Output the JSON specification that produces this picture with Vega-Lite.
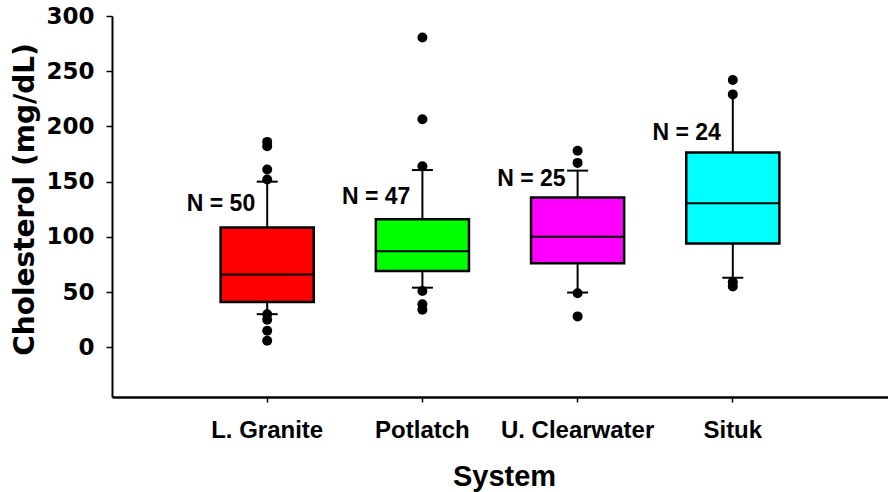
{
  "$schema": "https://vega.github.io/schema/vega-lite/v6.json",
  "autosize": "none",
  "width": 776,
  "height": 381,
  "padding": {"left": 112, "top": 16, "right": 0, "bottom": 95},
  "background": "white",
  "config": {"view": {"stroke": null}},
  "datasets": {
    "stats": [
      {"system": "L. Granite", "lower": 30, "q1": 41, "median": 66, "q3": 108.5, "upper": 150, "cap_upper": 150, "n": "N = 50", "labelY": 129.5},
      {"system": "Potlatch", "lower": 54, "q1": 69, "median": 87, "q3": 116, "upper": 160.5, "cap_upper": 160.5, "n": "N = 47", "labelY": 136.5},
      {"system": "U. Clearwater", "lower": 49.6, "q1": 76, "median": 100, "q3": 135.7, "upper": 160, "cap_upper": 160, "n": "N = 25", "labelY": 152},
      {"system": "Situk", "lower": 63, "q1": 94, "median": 130.5, "q3": 176.4, "upper": 229, "cap_upper": null, "n": "N = 24", "labelY": 194.5}
    ],
    "outliers": [
      {"system": "L. Granite", "value": 186},
      {"system": "L. Granite", "value": 182},
      {"system": "L. Granite", "value": 161},
      {"system": "L. Granite", "value": 152},
      {"system": "L. Granite", "value": 30},
      {"system": "L. Granite", "value": 25},
      {"system": "L. Granite", "value": 15},
      {"system": "L. Granite", "value": 6},
      {"system": "Potlatch", "value": 280.5},
      {"system": "Potlatch", "value": 206.5},
      {"system": "Potlatch", "value": 164},
      {"system": "Potlatch", "value": 51},
      {"system": "Potlatch", "value": 39},
      {"system": "Potlatch", "value": 34},
      {"system": "U. Clearwater", "value": 178},
      {"system": "U. Clearwater", "value": 167},
      {"system": "U. Clearwater", "value": 49},
      {"system": "U. Clearwater", "value": 28},
      {"system": "Situk", "value": 242},
      {"system": "Situk", "value": 229},
      {"system": "Situk", "value": 59},
      {"system": "Situk", "value": 55}
    ]
  },
  "layer": [
    {
      "data": {"name": "stats"},
      "mark": {"type": "rule", "color": "black", "strokeWidth": 2},
      "encoding": {
        "x": {
          "field": "system", "type": "nominal",
          "sort": ["L. Granite", "Potlatch", "U. Clearwater", "Situk"],
          "scale": {"type": "band", "paddingInner": 0.4, "paddingOuter": 0.7},
          "axis": {
            "title": "System",
            "titleFont": "Liberation Sans", "titleFontSize": 29, "titleFontWeight": "bold", "titleColor": "black",
            "titleX": 392, "titleY": 88, "titleBaseline": "alphabetic", "titleAnchor": null, "titleAlign": "center",
            "labelFont": "Liberation Sans", "labelFontSize": 24, "labelFontWeight": "bold", "labelColor": "black",
            "labelAngle": 0, "labelBaseline": "alphabetic", "labelPadding": 35,
            "tickSize": 5, "tickColor": "black", "tickWidth": 1.5,
            "domainColor": "black", "domainWidth": 2.5, "grid": false
          }
        },
        "y": {
          "field": "lower", "type": "quantitative",
          "scale": {"domain": [-45, 300], "nice": false, "zero": false},
          "axis": {
            "title": "Cholesterol (mg/dL)",
            "values": [0, 50, 100, 150, 200, 250, 300],
            "titleFont": "DejaVu Sans", "titleFontSize": 28, "titleFontWeight": "bold", "titleColor": "black",
            "titleX": -87, "titleY": 183, "titleAngle": -90, "titleBaseline": "middle", "titleAlign": "center", "titleAnchor": null,
            "labelFont": "DejaVu Sans", "labelFontSize": 23, "labelFontWeight": "bold", "labelColor": "black",
            "labelPadding": 12, "labelBaseline": "middle",
            "tickSize": 6, "tickColor": "black", "tickWidth": 1.5,
            "domainColor": "black", "domainWidth": 2, "grid": false
          }
        },
        "y2": {"field": "upper"}
      }
    },
    {
      "data": {"name": "stats"},
      "mark": {"type": "tick", "color": "black", "opacity": 1, "thickness": 2, "size": 21, "orient": "horizontal"},
      "encoding": {
        "x": {"field": "system", "type": "nominal", "sort": ["L. Granite", "Potlatch", "U. Clearwater", "Situk"]},
        "y": {"field": "lower", "type": "quantitative"}
      }
    },
    {
      "data": {"name": "stats"},
      "mark": {"type": "tick", "color": "black", "opacity": 1, "thickness": 2, "size": 21, "orient": "horizontal"},
      "encoding": {
        "x": {"field": "system", "type": "nominal", "sort": ["L. Granite", "Potlatch", "U. Clearwater", "Situk"]},
        "y": {"field": "cap_upper", "type": "quantitative"}
      }
    },
    {
      "data": {"name": "stats"},
      "mark": {"type": "bar", "stroke": "black", "strokeWidth": 2.5, "opacity": 1},
      "encoding": {
        "x": {"field": "system", "type": "nominal", "sort": ["L. Granite", "Potlatch", "U. Clearwater", "Situk"]},
        "y": {"field": "q1", "type": "quantitative"},
        "y2": {"field": "q3"},
        "fill": {
          "field": "system", "type": "nominal", "legend": null,
          "scale": {"domain": ["L. Granite", "Potlatch", "U. Clearwater", "Situk"], "range": ["#FF0000", "#00FF00", "#FF00FF", "#00FFFF"]}
        }
      }
    },
    {
      "data": {"name": "stats"},
      "mark": {"type": "tick", "color": "black", "opacity": 1, "thickness": 2, "orient": "horizontal", "size": 93},
      "encoding": {
        "x": {"field": "system", "type": "nominal", "sort": ["L. Granite", "Potlatch", "U. Clearwater", "Situk"]},
        "y": {"field": "median", "type": "quantitative"}
      }
    },
    {
      "data": {"name": "outliers"},
      "mark": {"type": "point", "filled": true, "color": "black", "opacity": 1, "size": 100},
      "encoding": {
        "x": {"field": "system", "type": "nominal", "sort": ["L. Granite", "Potlatch", "U. Clearwater", "Situk"]},
        "y": {"field": "value", "type": "quantitative"}
      }
    },
    {
      "data": {"name": "stats"},
      "mark": {"type": "text", "font": "Liberation Sans", "fontSize": 23, "fontWeight": "bold", "color": "black", "align": "right", "baseline": "middle", "dx": -12},
      "encoding": {
        "x": {"field": "system", "type": "nominal", "sort": ["L. Granite", "Potlatch", "U. Clearwater", "Situk"]},
        "y": {"field": "labelY", "type": "quantitative"},
        "text": {"field": "n"}
      }
    },
    {
      "mark": {"type": "rule", "color": "black", "strokeWidth": 2.5},
      "encoding": {"y": {"datum": 300}}
    }
  ]
}
